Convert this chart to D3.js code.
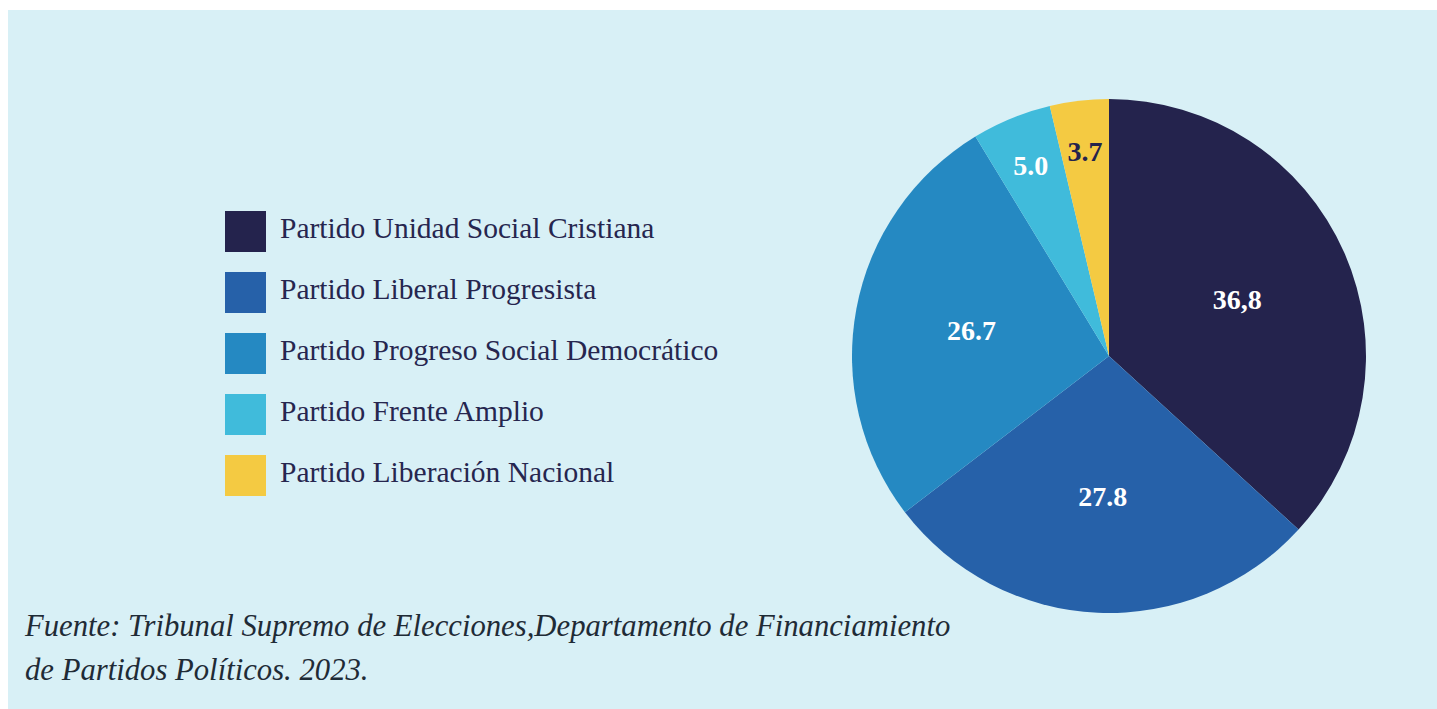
<!DOCTYPE html>
<html>
<head>
<meta charset="utf-8">
<script src="https://cdn.jsdelivr.net/npm/d3@7"></script>
<style>
  html, body { margin: 0; padding: 0; background: #ffffff; }
  svg { display: block; }
</style>
</head>
<body>
<svg id="chart" width="1437" height="709"></svg>
<script>
// party names, in legend / slice order
const partidos = [
    "Partido Unidad Social Cristiana",
    "Partido Liberal Progresista",
    "Partido Progreso Social Democrático",
    "Partido Frente Amplio",
    "Partido Liberación Nacional"
];
// share of each party (%)
const valores = [36.8, 27.8, 26.7, 5.0, 3.7];
// labels as printed on the slices
const etiquetas = ["36,8", "27.8", "26.7", "5.0", "3.7"];
const colores = ["#24234d", "#2661a9", "#2589c2", "#40bbdb", "#f4ca42"];
const colorEtiqueta = ["#ffffff", "#ffffff", "#ffffff", "#ffffff", "#24234d"];

const fuente = [
    "Fuente: Tribunal Supremo de Elecciones,Departamento de Financiamiento",
    "de Partidos Políticos. 2023."
];

const svg = d3.select("#chart");
const serif = "'Liberation Serif', 'Times New Roman', serif";

// panel background
svg.append("rect")
    .attr("x", 8).attr("y", 10)
    .attr("width", 1429).attr("height", 699)
    .attr("fill", "#d8f0f6");

/** pie */
const cx = 1109, cy = 356, radio = 257;

const pie = d3.pie().sort(null).value(d => d);
const arcos = pie(valores);
const arc = d3.arc().innerRadius(0).outerRadius(radio);

const g = svg.append("g").attr("transform", "translate(" + cx + "," + cy + ")");

g.selectAll("path")
    .data(arcos)
    .enter()
    .append("path")
    .attr("d", arc)
    .attr("fill", (d, i) => colores[i]);

// big slices get the label nearer the centre, thin ones near the rim
const arcoGrande = d3.arc().innerRadius(280).outerRadius(0);
const arcoChico = d3.arc().innerRadius(412).outerRadius(0);

g.selectAll("text")
    .data(arcos)
    .enter()
    .append("text")
    .attr("transform", function(d) {
        const c = (d.value > 10 ? arcoGrande : arcoChico).centroid(d);
        return "translate(" + c[0] + "," + c[1] + ")";
    })
    .attr("text-anchor", "middle")
    .attr("dy", "0.35em")
    .attr("fill", (d, i) => colorEtiqueta[i])
    .style("font-family", serif)
    .style("font-weight", "bold")
    .style("font-size", "28px")
    .text((d, i) => etiquetas[i]);

/** legend */
const yLeyenda = d3.scaleBand()
    .domain(partidos)
    .range([211, 211 + 61 * partidos.length])
    .paddingInner(0);

const filas = svg.append("g").selectAll("g")
    .data(partidos)
    .enter()
    .append("g")
    .attr("transform", d => "translate(225," + yLeyenda(d) + ")");

filas.append("rect")
    .attr("width", 41).attr("height", 41)
    .attr("fill", (d, i) => colores[i]);

filas.append("text")
    .attr("x", 55)
    .attr("y", 27)
    .attr("fill", "#26264f")
    .style("font-family", serif)
    .style("font-size", "29.5px")
    .text(d => d);

/** source note */
svg.append("g").selectAll("text")
    .data(fuente)
    .enter()
    .append("text")
    .attr("x", 25)
    .attr("y", (d, i) => 636 + i * 44)
    .attr("fill", "#1f2b36")
    .style("font-family", serif)
    .style("font-style", "italic")
    .style("font-size", "30.7px")
    .text(d => d);
</script>
</body>
</html>
